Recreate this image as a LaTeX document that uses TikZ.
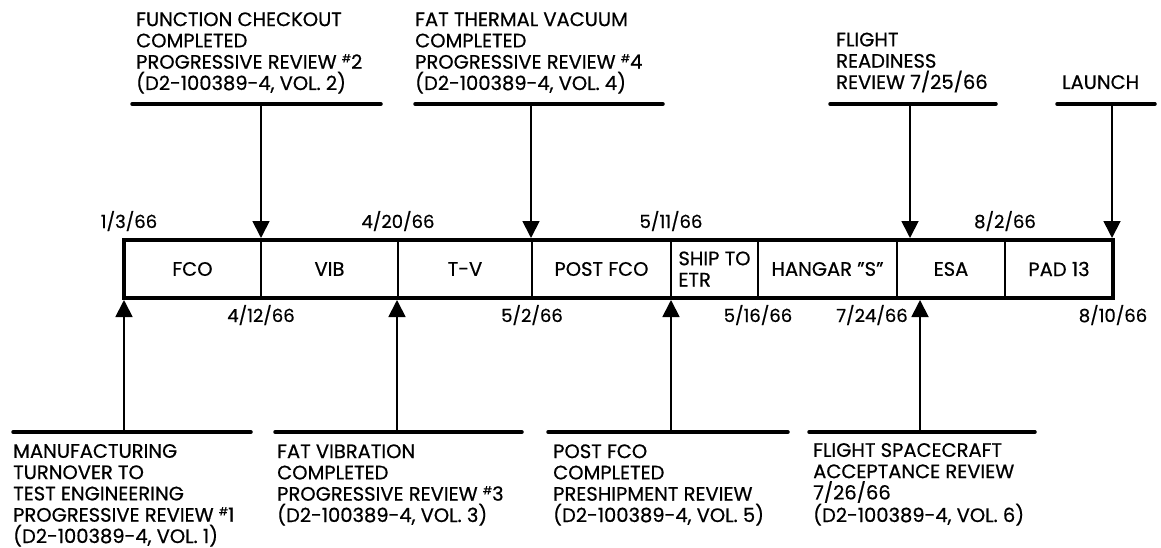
\documentclass[tikz,border=0pt]{standalone}
\usepackage{fontspec}
\setmainfont{Poppins}[FakeBold=0.6]
\usetikzlibrary{arrows.meta}
\newcommand{\revno}[1]{\raisebox{0.6ex}{\fontsize{11}{11}\selectfont\#}#1}

\begin{document}
\begin{tikzpicture}[
  x=1pt,
  y=-1pt,
  every node/.style={font=\fontsize{19.5}{21.3}\selectfont, inner sep=0pt},
  stage/.style={draw, line width=1.6pt, outer sep=0pt, minimum height=58pt, anchor=north west},
  frame/.style={line width=3.5pt},
  shelf/.style={line width=3.5pt, line cap=round},
  pointer/.style={line width=1.8pt, -{Triangle[length=17pt, width=17pt]}, shorten >=2pt},
  note/.style={align=left, anchor=base west},
  date/.style={anchor=base, font=\fontsize{18}{20}\selectfont}
]
  % ---- page frame, same size as the scan ----
  \useasboundingbox (0,0) rectangle (1161,548);

  % ---- the stages, left to right ----
  \node[stage, minimum width=137pt] (fco) at (124,240) {FCO};
  \node[stage, minimum width=137pt] (vib) at (fco.north east) {VIB};
  \node[stage, minimum width=134pt] (tv) at (vib.north east) {T-V};
  \node[stage, minimum width=139pt] (post) at (tv.north east) {POST FCO};
  \node[stage, minimum width=87pt, align=left] (ship) at (post.north east) {SHIP TO\\ETR};
  \node[stage, minimum width=139pt] (hangar) at (ship.north east) {HANGAR \char34 S\char34};
  \node[stage, minimum width=108pt] (esa) at (hangar.north east) {ESA};
  \node[stage, minimum width=108pt] (pad) at (esa.north east) {PAD 13};
  \draw[frame] (fco.north west) rectangle (pad.south east);

  % ---- dates above and below the bar ----
  \node[date] (d103) at ([xshift=5pt, yshift=12pt]fco.north west) {1/3/66};
  \node[date] (d420) at ([yshift=12pt]tv.north west) {4/20/66};
  \node[date] (d511) at ([yshift=12pt]ship.north west) {5/11/66};
  \node[date] (d802) at ([yshift=12pt]pad.north west) {8/2/66};
  \node[date] (d412) at ([yshift=-24pt]vib.south west) {4/12/66};
  \node[date] (d502) at ([yshift=-24pt]post.south west) {5/2/66};
  \node[date] (d516) at ([yshift=-24pt]hangar.south west) {5/16/66};
  \node[date] (d724) at ([xshift=-25pt, yshift=-24pt]esa.south west) {7/24/66};
  \node[date] (d810) at ([yshift=-24pt]pad.south east) {8/10/66};

  % ---- reviews above the bar (base = last line) ----
  \node[note] (n2) at (136,90) {FUNCTION CHECKOUT\\COMPLETED\\PROGRESSIVE REVIEW \revno{2}\\(D2-100389-4, VOL. 2)};
  \node[note] (n4) at (415,90) {FAT THERMAL VACUUM\\COMPLETED\\PROGRESSIVE REVIEW \revno{4}\\(D2-100389-4, VOL. 4)};
  \node[note] (nfr) at (836,89) {FLIGHT\\READINESS\\REVIEW 7/25/66};
  \node[note] (nl) at (1062,89) {LAUNCH};
  \draw[shelf] (132,104) -- (381,104);
  \draw[shelf] (415,104) -- (663,104);
  \draw[shelf] (830,104) -- (996,104);
  \draw[shelf] (1057,104) -- (1155,104);
  \coordinate (s2) at (261,104);
  \coordinate (s4) at (531,104);
  \coordinate (sfr) at (910,104);
  \coordinate (sl) at (1112,104);
  \draw[pointer] (s2) -- (s2 |- fco.north);
  \draw[pointer] (s4) -- (s4 |- tv.north);
  \draw[pointer] (sfr) -- (sfr |- esa.north);
  \draw[pointer] (sl) -- (sl |- pad.north);

  % ---- reviews below the bar ----
  \node[note] (n1) at (13,543) {MANUFACTURING\\TURNOVER TO\\TEST ENGINEERING\\PROGRESSIVE REVIEW \revno{1}\\(D2-100389-4, VOL. 1)};
  \node[note] (n3) at (277,522) {FAT VIBRATION\\COMPLETED\\PROGRESSIVE REVIEW \revno{3}\\(D2-100389-4, VOL. 3)};
  \node[note] (n5) at (553,522) {POST FCO\\COMPLETED\\PRESHIPMENT REVIEW\\(D2-100389-4, VOL. 5)};
  \node[note] (n6) at (813,522) {FLIGHT SPACECRAFT\\ACCEPTANCE REVIEW\\7/26/66\\(D2-100389-4, VOL. 6)};
  \draw[shelf] (13,432) -- (251,432);
  \draw[shelf] (275,432) -- (522,432);
  \draw[shelf] (548,432) -- (788,432);
  \draw[shelf] (809,432) -- (1035,432);
  \coordinate (s1) at (124,432);
  \coordinate (s3) at (397,432);
  \coordinate (s5) at (671,432);
  \coordinate (s6) at (920,432);
  \draw[pointer] (s1) -- (s1 |- fco.south);
  \draw[pointer] (s3) -- (s3 |- vib.south);
  \draw[pointer] (s5) -- (s5 |- post.south);
  \draw[pointer] (s6) -- (s6 |- esa.south);
\end{tikzpicture}
\end{document}
